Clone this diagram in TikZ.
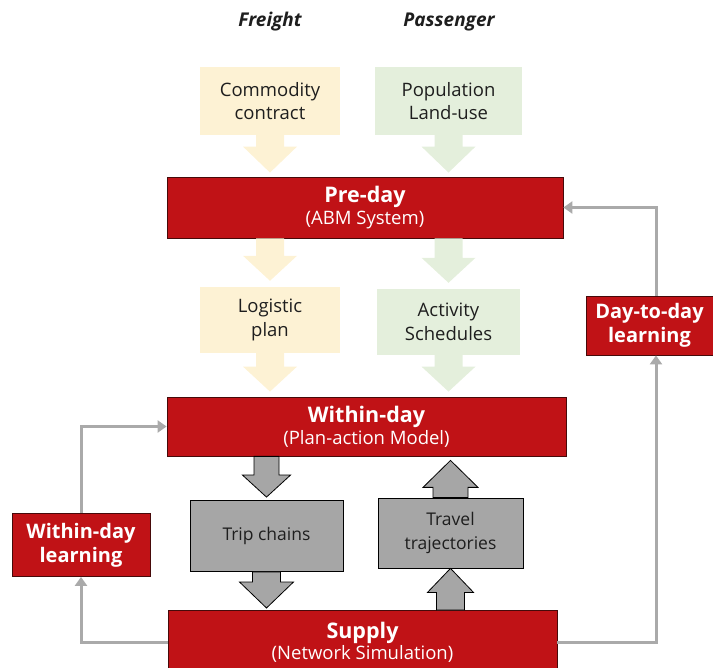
\documentclass[tikz,border=0pt]{standalone}
\usepackage{fontspec}
\setmainfont{Open Sans}
\usetikzlibrary{arrows.meta,calc}
\definecolor{boxred}{RGB}{192,18,22}
\definecolor{redline}{RGB}{70,10,10}
\definecolor{paleyel}{RGB}{253,242,212}
\definecolor{palegrn}{RGB}{228,239,220}
\definecolor{boxgray}{RGB}{166,166,166}
\definecolor{conngray}{RGB}{170,170,170}
\definecolor{txtdark}{RGB}{30,30,30}
\newcommand\ttlfnt{\bfseries\fontsize{21.5}{25}\selectfont}
\newcommand\subfnt{\mdseries\fontsize{18.5}{25}\selectfont}
\newcommand\blockarr[6]{%
  \path[#1] let \p1=(#2), \p2=(#3), \n1={sign(\y2-\y1)} in
  (\x1-#4,\y1) -- (\x1-#4,{\y2-\n1*#6}) -- (\x1-#5,{\y2-\n1*#6}) -- (\x1,\y2)
  -- (\x1+#5,{\y2-\n1*#6}) -- (\x1+#4,{\y2-\n1*#6}) -- (\x1+#4,\y1) -- cycle;}
\tikzset{
  redbox/.style={draw=redline, line width=0.8pt, fill=boxred, text=white, align=center, inner sep=0pt},
  inbox/.style={align=center, inner sep=0pt, text=txtdark, font=\fontsize{18.5}{23.5}\selectfont},
  graybox/.style={draw=black, line width=0.8pt, fill=boxgray, align=center, inner sep=0pt, text=txtdark, font=\fontsize{17.5}{23.5}\selectfont},
  conn/.style={draw=conngray, line width=3pt, -{Triangle[width=12pt,length=9pt]}},
  head/.style={font=\bfseries\itshape\fontsize{19}{22}\selectfont, text=txtdark},
  learn/.style={font=\bfseries\fontsize{20}{24}\selectfont},
}
\begin{document}
\begin{tikzpicture}[x=1pt,y=-1pt]
\useasboundingbox (0,0) rectangle (713,668);
% headings
\node[head] (fr) at (270,22) {Freight};
\node[head] (pa) at (449,22) {Passenger};
% input boxes
\node[inbox, fill=paleyel, minimum width=140pt, minimum height=68pt] (com) at (270,101) {Commodity\\contract};
\node[inbox, fill=palegrn, minimum width=147pt, minimum height=68pt] (pop) at (448.5,101) {Population\\Land-use};
% pre-day
\node[redbox, minimum width=396pt, minimum height=61pt] (pre) at (365,207.5)
  {{\ttlfnt Pre-day}\\[2pt]{\subfnt (ABM System)}};
% plans
\node[inbox, fill=paleyel, minimum width=140pt, minimum height=66pt] (log) at (270,320) {Logistic\\plan};
\node[inbox, fill=palegrn, minimum width=143pt, minimum height=66pt] (act) at (448.5,322) {Activity\\Schedules};
% within-day
\node[redbox, minimum width=399pt, minimum height=59pt] (wd) at (366.5,426.5)
  {{\ttlfnt Within-day}\\[2pt]{\subfnt (Plan-action Model)}};
% gray boxes
\node[graybox, minimum width=153pt, minimum height=71pt] (trip) at (266.5,536) {Trip chains};
\node[graybox, minimum width=145pt, minimum height=70pt] (traj) at (450.5,533) {Travel\\trajectories};
% supply
\node[redbox, minimum width=389pt, minimum height=64pt, anchor=north] (sup) at (362.5,610)
  {{\ttlfnt Supply}\\[1pt]{\subfnt (Network Simulation)}};
% learning boxes
\node[redbox, minimum width=138pt, minimum height=63pt, learn] (wdl) at (81,545) {Within-day\\learning};
\node[redbox, minimum width=127pt, minimum height=59pt, learn] (dtd) at (649.5,325.5) {Day-to-day\\learning};
% pale block arrows
\blockarr{fill=paleyel}{com.south}{$(com.south |- pre.north)+(0,-4)$}{14pt}{27pt}{26pt}
\blockarr{fill=palegrn}{pop.south}{$(pop.south |- pre.north)+(0,-4)$}{14pt}{27pt}{26pt}
\blockarr{fill=paleyel}{pre.south -| log.north}{$(log.north)+(0,-6)$}{14pt}{27pt}{25pt}
\blockarr{fill=palegrn}{pre.south -| act.north}{$(act.north)+(0,-6)$}{14pt}{27pt}{25pt}
\blockarr{fill=paleyel}{log.south}{$(log.south |- wd.north)+(0,-5)$}{14pt}{27pt}{25pt}
\blockarr{fill=palegrn}{act.south}{$(act.south |- wd.north)+(0,-5)$}{14pt}{27pt}{25pt}
% gray block arrows
\blockarr{fill=boxgray, draw=black, line width=0.8pt}{wd.south -| trip.north}{$(trip.north)+(0,-3)$}{12.5pt}{24pt}{22pt}
\blockarr{fill=boxgray, draw=black, line width=0.8pt}{trip.south}{$(trip.south |- sup.north)+(0,-2)$}{14pt}{27pt}{26pt}
\blockarr{fill=boxgray, draw=black, line width=0.8pt}{traj.north}{$(traj.north |- wd.south)+(0,4)$}{17.5pt}{27.5pt}{27pt}
\blockarr{fill=boxgray, draw=black, line width=0.8pt}{sup.north -| traj.south}{traj.south}{14pt}{23pt}{24pt}
% learning loops
\draw[conn] (wdl.north) |- (wd.west);
\draw[conn] (sup.west) -| (wdl.south);
\draw[conn] (sup.east) -| ([xshift=6.5pt]dtd.south);
\draw[conn] ([xshift=6.5pt]dtd.north) |- (pre.east);
\end{tikzpicture}
\end{document}
